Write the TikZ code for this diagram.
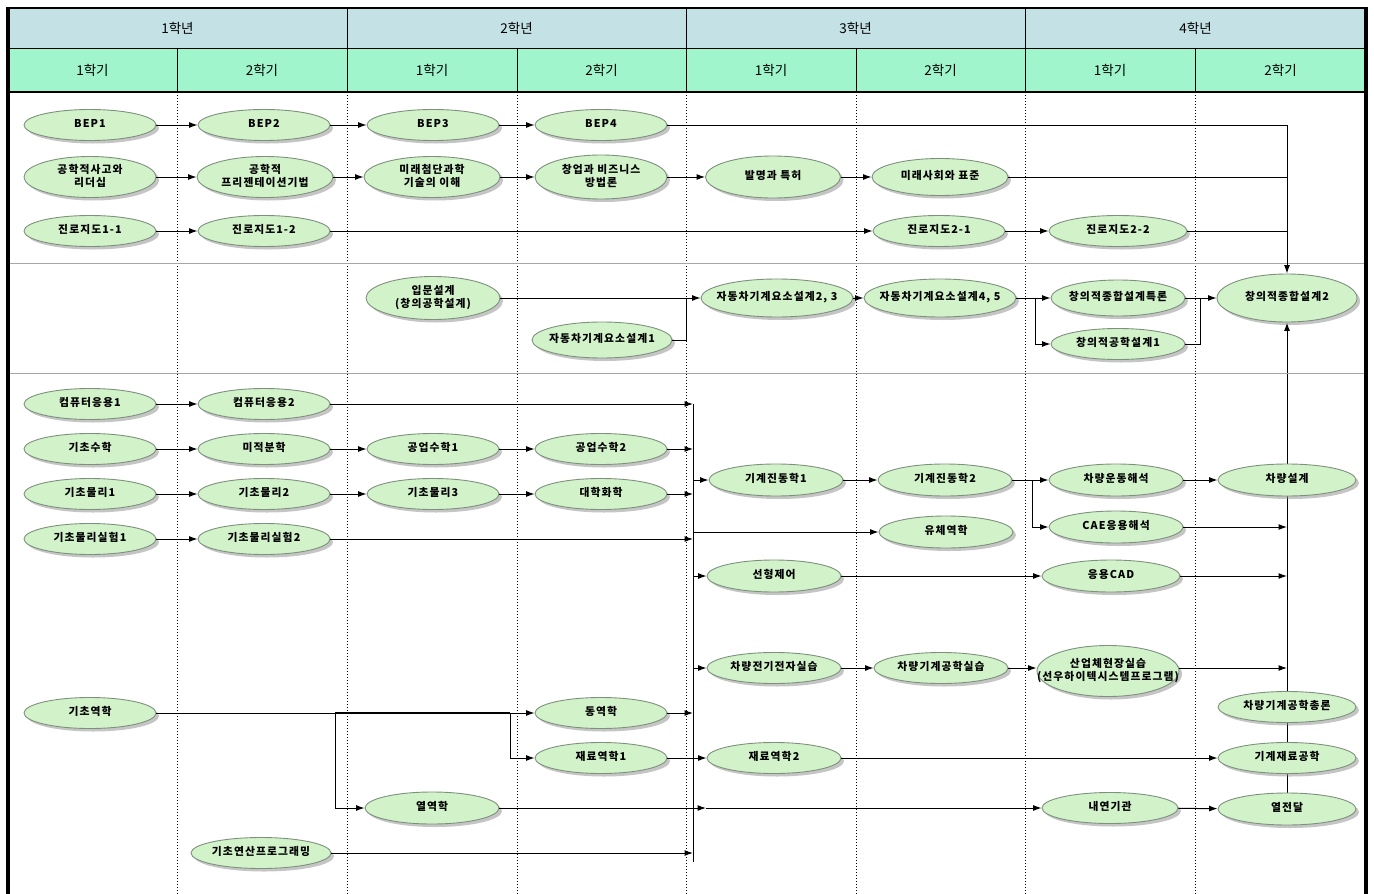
\documentclass[tikz,border=0pt]{standalone}
\usepackage{fontspec}
\newfontfamily\ko[LetterSpace=10]{Noto Sans CJK KR}
\newfontfamily\koh{Noto Sans CJK KR}
\usetikzlibrary{shapes.geometric,arrows.meta,shadows}
\definecolor{yearc}{RGB}{196,226,230}
\definecolor{semc}{RGB}{160,245,204}
\definecolor{ellf}{RGB}{210,243,202}
\definecolor{elld}{RGB}{125,145,125}
\newcommand\ztext[1]{\makebox[0pt]{\begin{tabular}{@{}c@{}}#1\end{tabular}}}
\pgfdeclarelayer{back}
\pgfdeclarelayer{bg}
\pgfsetlayers{back,bg,main}
\begin{document}
\begin{tikzpicture}[x=1pt,y=-1pt,
  crs/.style={ellipse,draw=elld,line width=0.9pt,fill=ellf,inner sep=0pt,
    minimum width=132pt,minimum height=31pt,
    font=\ko\bfseries\fontsize{10.8}{12.5}\selectfont,
    drop shadow={shadow xshift=3pt,shadow yshift=-3pt,fill=black!45}},
  ar/.style={-{Latex[length=8.5pt,width=6pt]},line width=1pt},
  ln/.style={line width=1pt},
  hd/.style={font=\koh\fontsize{13.5}{15}\selectfont},
  vsep/.style={line width=0.9pt,dash pattern=on 1.2pt off 1.8pt}]
\begin{pgfonlayer}{back}
\fill[white] (0,0) rectangle (1374,894);
\end{pgfonlayer}
\useasboundingbox (0,0) rectangle (1374,894);
% header
\fill[yearc] (8,8) rectangle (1366,48);
\fill[semc] (8,48) rectangle (1366,92);
\draw[line width=0.8pt] (8,48) -- (1366,48);
\foreach \x in {347,686,1025} \draw[line width=0.8pt] (\x,8) -- (\x,48);
\foreach \x in {177,347,517,686,856,1025,1195} \draw[line width=0.8pt] (\x,48) -- (\x,92);
\draw[line width=1.4pt] (8,92) -- (1366,92);
\foreach \i/\x in {1/177.5,2/516.5,3/855.5,4/1195.5} \node[hd] (yr\i) at (\x,28) {{\i}학년};
\foreach \i/\x/\s in {1/92.5/1,2/262/2,3/432/1,4/601.5/2,5/771/1,6/940.5/2,7/1110/1,8/1280.5/2}
  \node[hd] (sem\i) at (\x,70) {{\s}학기};
% grid
\foreach \x in {177,347,517,686,856,1025,1195} \draw[vsep] (\x,92) -- (\x,894);
\draw[gray!70,line width=1pt] (8,263) -- (1366,263);
\draw[gray!70,line width=1pt] (8,373) -- (1366,373);
\draw[line width=3.5pt] (8,894) -- (8,8);
\draw[line width=3.5pt] (1366,8) -- (1366,894);
\draw[line width=2pt] (6.25,8) -- (1367.75,8);

% ---------- section 1
\node[crs] (bep1) at (90,125) {\ztext{BEP1}};
\node[crs] (bep2) at (264,125) {\ztext{BEP2}};
\node[crs] (bep3) at (433,125) {\ztext{BEP3}};
\node[crs] (bep4) at (601,125) {\ztext{BEP4}};
\node[crs,minimum height=41pt] (gs) at (90,177) {\ztext{공학적사고와\\리더십}};
\node[crs,minimum width=136pt,minimum height=41pt] (gp) at (265,177) {\ztext{공학적\\프리젠테이션기법}};
\node[crs,minimum width=136pt,minimum height=41pt] (mc) at (432,177) {\ztext{미래첨단과학\\기술의 이해}};
\node[crs,minimum height=44pt] (cb) at (601,177) {\ztext{창업과 비즈니스\\방법론}};
\node[crs,minimum width=135pt,minimum height=42pt] (bt) at (773,177) {\ztext{발명과 특허}};
\node[crs,minimum width=136pt,minimum height=37pt] (ms) at (940,177) {\ztext{미래사회와 표준}};
\node[crs] (j11) at (90,231) {\ztext{진로지도1-1}};
\node[crs] (j12) at (264,231) {\ztext{진로지도1-2}};
\node[crs] (j21) at (939,231) {\ztext{진로지도2-1}};
\node[crs,minimum width=138pt] (j22) at (1118,231) {\ztext{진로지도2-2}};

% ---------- section 2
\node[crs,minimum width=134pt,minimum height=43pt] (ib) at (433,298) {\ztext{입문설계\\(창의공학설계)}};
\node[crs,minimum width=140pt,minimum height=36pt] (ak1) at (602,340) {\ztext{자동차기계요소설계1}};
\node[crs,minimum width=152pt,minimum height=38pt] (ak23) at (777,298) {\ztext{자동차기계요소설계2, 3}};
\node[crs,minimum width=152pt,minimum height=38pt] (ak45) at (940,298) {\ztext{자동차기계요소설계4, 5}};
\node[crs,minimum width=134pt,minimum height=36pt] (ct) at (1118,298) {\ztext{창의적종합설계특론}};
\node[crs,minimum width=134pt,minimum height=31pt] (cg1) at (1118,344) {\ztext{창의적공학설계1}};
\node[crs,minimum width=140pt,minimum height=48pt] (cd2) at (1287,298) {\ztext{창의적종합설계2}};

% ---------- section 3
\node[crs] (cu1) at (90,404) {\ztext{컴퓨터응용1}};
\node[crs] (cu2) at (264,404) {\ztext{컴퓨터응용2}};
\node[crs] (bm) at (90,449) {\ztext{기초수학}};
\node[crs] (mj) at (264,449) {\ztext{미적분학}};
\node[crs] (gm1) at (433,449) {\ztext{공업수학1}};
\node[crs] (gm2) at (601,449) {\ztext{공업수학2}};
\node[crs] (bp1) at (90,494) {\ztext{기초물리1}};
\node[crs] (bp2) at (264,494) {\ztext{기초물리2}};
\node[crs] (bp3) at (433,494) {\ztext{기초물리3}};
\node[crs] (uc) at (601,494) {\ztext{대학화학}};
\node[crs] (be1) at (90,539) {\ztext{기초물리실험1}};
\node[crs] (be2) at (264,539) {\ztext{기초물리실험2}};

\node[crs,minimum width=134pt,minimum height=32pt] (gv1) at (776,480) {\ztext{기계진동학1}};
\node[crs,minimum width=134pt,minimum height=32pt] (gv2) at (945,480) {\ztext{기계진동학2}};
\node[crs,minimum width=134pt,minimum height=32pt] (cm) at (1116,480) {\ztext{차량운동해석}};
\node[crs,minimum width=138pt,minimum height=32pt] (cs) at (1287,480) {\ztext{차량설계}};
\node[crs,minimum width=134pt,minimum height=32pt] (cae) at (1116,527) {\ztext{CAE응용해석}};
\node[crs,minimum width=134pt,minimum height=32pt] (fl) at (946,532) {\ztext{유체역학}};
\node[crs,minimum width=134pt,minimum height=32pt] (lc) at (774,576) {\ztext{선형제어}};
\node[crs,minimum width=138pt,minimum height=32pt] (cad) at (1111,576) {\ztext{응용CAD}};
\node[crs,minimum width=134pt] (ce) at (774,668) {\ztext{차량전기전자실습}};
\node[crs,minimum width=134pt] (cmp) at (941,668) {\ztext{차량기계공학실습}};
\node[crs,minimum width=142pt,minimum height=51pt] (ind) at (1108,671) {\ztext{산업체현장실습\\(선우하이텍시스템프로그램)}};
\node[crs,minimum width=138pt] (cgt) at (1287,707) {\ztext{차량기계공학총론}};
\node[crs,minimum width=138pt] (gmat) at (1287,758) {\ztext{기계재료공학}};
\node[crs,minimum width=138pt,minimum height=32pt] (ht) at (1287,809) {\ztext{열전달}};
\node[crs,minimum width=136pt] (ice) at (1110,808) {\ztext{내연기관}};
\node[crs,minimum width=134pt] (sm2) at (774,758) {\ztext{재료역학2}};
\node[crs] (bmech) at (90,713) {\ztext{기초역학}};
\node[crs] (dyn) at (601,713) {\ztext{동역학}};
\node[crs] (sm1) at (601,758) {\ztext{재료역학1}};
\node[crs,minimum width=134pt,minimum height=32pt] (th) at (432,808) {\ztext{열역학}};
\node[crs,minimum width=140pt] (bcp) at (261,853) {\ztext{기초연산프로그래밍}};

% ---------- connectors section 1
\coordinate (tr) at (1287,125);
\draw[ar] (bep1) -- (bep2);
\draw[ar] (bep2) -- (bep3);
\draw[ar] (bep3) -- (bep4);
\draw[ln] (bep4) -- (tr);
\draw[ar] (tr) -- (cd2);
\draw[ar] (gs) -- (gp);
\draw[ar] (gp) -- (mc);
\draw[ar] (mc) -- (cb);
\draw[ar] (cb) -- (bt);
\draw[ar] (bt) -- (ms);
\draw[ln] (ms) -- (ms -| tr);
\draw[ar] (j11) -- (j12);
\draw[ar] (j12) -- (j21);
\draw[ar] (j21) -- (j22);
\draw[ln] (j22) -- (j22 -| tr);

% ---------- connectors section 2
\coordinate (m1) at (686,298);
\coordinate (b1) at (1035,298);
\coordinate (m2) at (1200,298);
\draw[ar] (ib) -- (ak23);
\draw[ln] (ak1) -| (m1);
\draw[ar] (ak23) -- (ak45);
\draw[ar] (ak45) -- (ct);
\draw[ar] (b1) |- (cg1);
\draw[ln] (ct) -- (m2);
\draw[ln] (cg1) -| (m2);
\draw[ar] (m2) -- (cd2);

% ---------- connectors section 3
\coordinate (bust) at (693,404);
\coordinate (busb) at (693,862);
\draw[ln] (bust) -- (busb);
\draw[ar] (cu1) -- (cu2);
\draw[ar] (cu2) -- (cu2 -| bust);
\draw[ar] (bm) -- (mj);
\draw[ar] (mj) -- (gm1);
\draw[ar] (gm1) -- (gm2);
\draw[ar] (gm2) -- (gm2 -| bust);
\draw[ar] (bp1) -- (bp2);
\draw[ar] (bp2) -- (bp3);
\draw[ar] (bp3) -- (uc);
\draw[ar] (uc) -- (uc -| bust);
\draw[ar] (be1) -- (be2);
\draw[ar] (be2) -- (be2 -| bust);

\draw[ar] (bust |- gv1) -- (gv1);
\draw[ar] (gv1) -- (gv2);
\draw[ar] (gv2) -- (cm);
\draw[ar] (cm) -- (cs);
\coordinate (b2) at (1032,480);
\draw[ar] (b2) |- (cae);
\draw[ar] (cae) -- (cae -| cs);
\draw[ar] (bust |- fl) -- (fl);
\draw[ar] (bust |- lc) -- (lc);
\draw[ar] (lc) -- (cad);
\draw[ar] (cad) -- (cad -| cs);
\draw[ar] (bust |- ce) -- (ce);
\draw[ar] (ce) -- (cmp);
\draw[ar] (cmp) -- (cmp -| ind.west);
\draw[ar] (ind.east |- ce) -- (cs |- ce);

\coordinate (b3) at (335,713);
\coordinate (b4) at (510,713);
\coordinate (m3) at (706,808);
\draw[ar] (bmech) -- (dyn);
\draw[line width=1.7pt] (b3) -- (b4);
\draw[ar] (b3) |- (th);
\draw[ar] (b4) |- (sm1);
\draw[ar] (dyn) -- (dyn -| bust);
\draw[ar] (sm1) -- (sm2);
\draw[ar] (th) -- (m3);
\draw[ar] (m3) -- (ice);
\draw[ar] (sm2) -- (gmat);
\draw[ar] (ice) -- (ht);
\draw[ar] (bcp) -- (bcp -| bust);
\begin{pgfonlayer}{bg}
\draw[ar] (ht) -- (cd2);
\end{pgfonlayer}
\end{tikzpicture}
\end{document}
